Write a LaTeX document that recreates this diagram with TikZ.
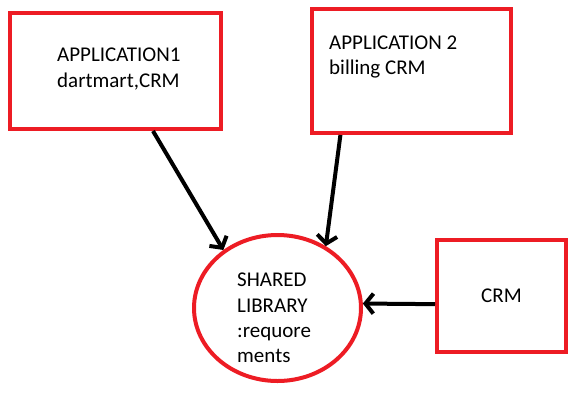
\documentclass[tikz,border=0pt]{standalone}
\usepackage{fontspec}
\setmainfont{Carlito}
\usetikzlibrary{shapes.geometric,arrows.meta}
\definecolor{paintred}{RGB}{237,28,36}
\begin{document}
\begin{tikzpicture}[x=1pt, y=-1pt,
  every node/.style={font=\fontsize{21}{25.3}\selectfont},
  appbox/.style={draw=paintred, line width=4pt, minimum width=#1, align=left, inner sep=0pt},
  libshape/.style={ellipse, draw=paintred, line width=4pt, minimum width=167pt, minimum height=146pt, inner sep=0pt},
  txt/.style={align=left, inner sep=0pt},
  link/.style={-{Straight Barb[length=8pt, width=20pt]}, line width=4pt}]
\useasboundingbox (0,0) rectangle (581,400);
\node[appbox=211pt, minimum height=116pt] (app1) at (115.5,71) {};
\node[txt, anchor=west] (app1txt) at (57,69) {APPLICATION1\\dartmart,CRM};
\node[appbox=199pt, minimum height=124pt] (app2) at (411.5,71) {};
\node[txt, anchor=west] (app2txt) at (329,57) {APPLICATION 2\\billing CRM};
\node[appbox=129pt, minimum height=112pt] (crm) at (501.5,296) {CRM};
\node[libshape] (lib) at (277.5,308) {};
\node[txt, anchor=west] (libtxt) at (237,318) {SHARED\\LIBRARY\\:requore\\ments};
\draw[link] (app1.-58) -- (lib.133);
\draw[link] (app2.222.6) -- (lib.52.5);
\draw[link] (crm.187) -- (lib.3);
\end{tikzpicture}
\end{document}
